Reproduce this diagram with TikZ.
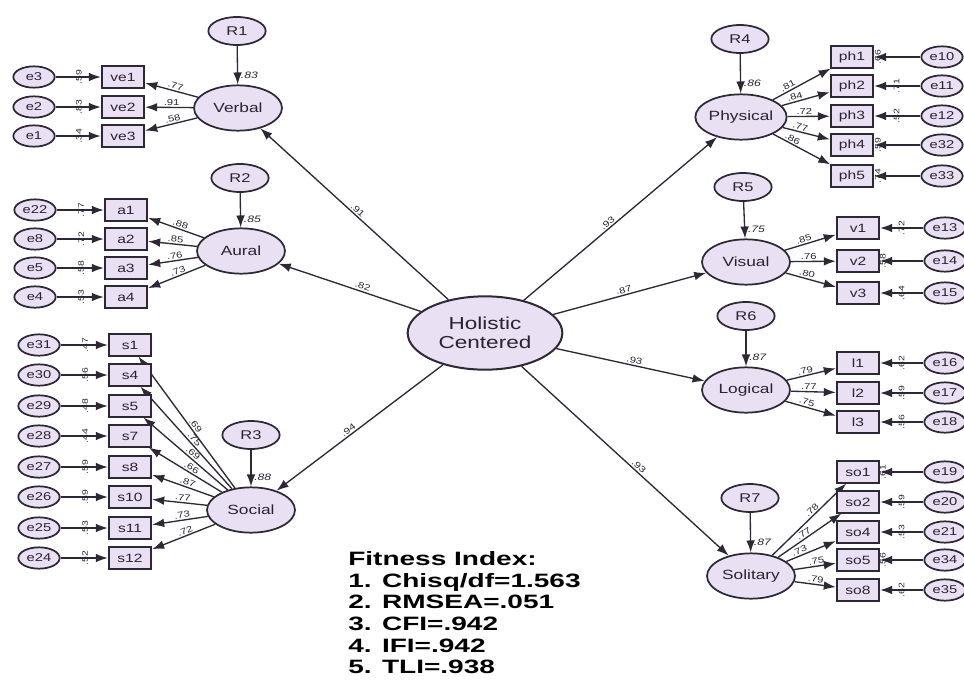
\documentclass[tikz,border=0pt]{standalone}
\usepackage{fontspec}
\setmainfont{Liberation Sans}
\newfontfamily\lab{Liberation Sans}[FakeStretch=1.3]
\newfontfamily\fitf{Liberation Sans}[FakeStretch=1.45]
\usetikzlibrary{shapes.geometric,arrows.meta}
\definecolor{fillC}{RGB}{233,224,243}
\definecolor{lineC}{RGB}{45,40,52}
\definecolor{txtC}{RGB}{40,36,48}
\begin{document}
\begin{tikzpicture}[x=0.75pt,y=-0.75pt,
  lat/.style={ellipse, draw=lineC, line width=1.3pt, fill=fillC, inner sep=0pt, text=txtC},
  fac/.style={lat, minimum width=66pt, minimum height=34pt, font=\lab\fontsize{10}{12}\selectfont},
  res/.style={lat, minimum width=43pt, minimum height=21pt, font=\lab\fontsize{9.5}{11}\selectfont},
  err/.style={lat, minimum width=31pt, minimum height=16pt, font=\lab\fontsize{8.5}{10}\selectfont},
  obs/.style={rectangle, draw=lineC, line width=1.3pt, fill=fillC, minimum width=32pt, minimum height=16pt, inner sep=0pt, text=txtC, font=\lab\fontsize{9}{10}\selectfont},
  arr/.style={draw=lineC, line width=1pt, -{Latex[length=9pt,width=6.5pt]}},
  wt/.style={font=\lab\fontsize{6.5}{7}\selectfont, sloped, above, inner sep=1pt, text=txtC},
  rw/.style={font=\lab\itshape\fontsize{7}{8}\selectfont, right, inner sep=2pt, text=txtC},
  ew/.style={font=\lab\fontsize{6}{7}\selectfont, rotate=90, inner sep=0pt, text=txtC},
  fitl/.style={anchor=base west, inner sep=0pt, text=black, font=\fitf\bfseries\fontsize{14.5}{16}\selectfont},
]
\useasboundingbox (0,0) rectangle (964,682);

% central factor
\node[lat, line width=1.5pt, minimum width=116pt, minimum height=55pt, align=center,
      font=\lab\fontsize{13}{14}\selectfont] (H) at (485,333) {Holistic\\Centered};

% ---------- Verbal ----------
\node[fac] (Verbal) at (238,108) {Verbal};
\node[res] (R1) at (237,31) {R1};
\draw[arr] (R1) -- node[rw,pos=0.75]{.83} (Verbal);
\foreach \bx/\yy/\ex/\sq/\ld in {ve1/77/e3/.59/.77, ve2/107/e2/.83/.91, ve3/136/e1/.34/.58}{
  \node[obs] (\bx) at (123,\yy) {\bx};
  \node[err] (\ex) at (34,\yy) {\ex};
  \draw[arr] (\ex) -- node[ew,pos=0.72,yshift=7pt]{\sq} (\bx);
  \draw[arr] (Verbal) -- node[wt,pos=0.45]{\ld} (\bx);
}

% ---------- Aural ----------
\node[fac] (Aural) at (241,251) {Aural};
\node[res] (R2) at (240,178) {R2};
\draw[arr] (R2) -- node[rw,pos=0.75]{.85} (Aural);
\foreach \bx/\yy/\ex/\sq/\ld in {a1/210/e22/.77/.88, a2/239/e8/.72/.85, a3/268/e5/.58/.76, a4/297/e4/.53/.73}{
  \node[obs] (\bx) at (126,\yy) {\bx};
  \node[err] (\ex) at (35,\yy) {\ex};
  \draw[arr] (\ex) -- node[ew,pos=0.72,yshift=7pt]{\sq} (\bx);
  \draw[arr] (Aural) -- node[wt,pos=0.45]{\ld} (\bx);
}

% ---------- Social ----------
\node[fac] (Social) at (251,510) {Social};
\node[res] (R3) at (251,435) {R3};
\draw[arr] (R3) -- node[rw,pos=0.75]{.88} (Social);
\foreach \bx/\yy/\ex/\sq/\ld in {s1/345/e31/.47/.69, s4/375/e30/.56/.75, s5/406/e29/.48/.69, s7/436/e28/.44/.66, s8/467/e27/.59/.87, s10/497/e26/.59/.77, s11/528/e25/.53/.73, s12/558/e24/.52/.72}{
  \node[obs] (\bx) at (130,\yy) {\bx};
  \node[err] (\ex) at (39,\yy) {\ex};
  \draw[arr] (\ex) -- node[ew,pos=0.72,yshift=7pt]{\sq} (\bx);
  \draw[arr] (Social) -- node[wt,pos=0.45]{\ld} (\bx);
}

% ---------- Physical ----------
\node[fac] (Physical) at (741,117) {Physical};
\node[res] (R4) at (740,39) {R4};
\draw[arr] (R4) -- node[rw,pos=0.75]{.86} (Physical);
\foreach \bx/\yy/\ex/\sq/\ld/\sd/\pp in {ph1/57/e10/.66/.81/7/0.3, ph2/86/e11/.71/.84/-7/0.3, ph3/116/e12/.52/.72/-7/0.4, ph4/145/e32/.59/.77/7/0.35, ph5/176/e33/.74/.86/7/0.3}{
  \node[obs] (\bx) at (852,\yy) {\bx};
  \node[err] (\ex) at (942,\yy) {\ex};
  \draw[arr] (\ex) -- node[ew,pos=0.72,yshift=\sd pt]{\sq} (\bx);
  \draw[arr] (Physical) -- node[wt,pos=\pp]{\ld} (\bx);
}

% ---------- Visual ----------
\node[fac] (Visual) at (746,262) {Visual};
\node[res] (R5) at (743,187) {R5};
\draw[arr] (R5) -- node[rw,pos=0.75]{.75} (Visual);
\foreach \bx/\yy/\ex/\sq/\ld/\sd in {v1/228/e13/.72/.85/-7, v2/261/e14/.58/.76/7, v3/293/e15/.64/.80/-7}{
  \node[obs] (\bx) at (858,\yy) {\bx};
  \node[err] (\ex) at (945,\yy) {\ex};
  \draw[arr] (\ex) -- node[ew,pos=0.72,yshift=\sd pt]{\sq} (\bx);
  \draw[arr] (Visual) -- node[wt,pos=0.4]{\ld} (\bx);
}

% ---------- Logical ----------
\node[fac] (Logical) at (746,390) {Logical};
\node[res] (R6) at (746,316) {R6};
\draw[arr] (R6) -- node[rw,pos=0.75]{.87} (Logical);
\foreach \bx/\yy/\ex/\sq/\ld/\sd in {l1/363/e16/.62/.79/-7, l2/393/e17/.59/.77/-7, l3/422/e18/.56/.75/-7}{
  \node[obs] (\bx) at (858,\yy) {\bx};
  \node[err] (\ex) at (945,\yy) {\ex};
  \draw[arr] (\ex) -- node[ew,pos=0.72,yshift=\sd pt]{\sq} (\bx);
  \draw[arr] (Logical) -- node[wt,pos=0.4]{\ld} (\bx);
}

% ---------- Solitary ----------
\node[fac] (Solitary) at (751,576) {Solitary};
\node[res] (R7) at (750,498) {R7};
\draw[arr] (R7) -- node[rw,pos=0.75]{.87} (Solitary);
\foreach \bx/\yy/\ex/\sq/\ld/\sd/\pp in {so1/472/e19/.61/.78/7/0.58, so2/502/e20/.59/.77/-7/0.45, so4/532/e21/.53/.73/-7/0.3, so5/560/e34/.56/.75/7/0.55, so8/590/e35/.62/.79/-7/0.5}{
  \node[obs] (\bx) at (858,\yy) {\bx};
  \node[err] (\ex) at (945,\yy) {\ex};
  \draw[arr] (\ex) -- node[ew,pos=0.72,yshift=\sd pt]{\sq} (\bx);
  \draw[arr] (Solitary) -- node[wt,pos=\pp]{\ld} (\bx);
}

% ---------- second-order paths ----------
\draw[arr] (H) -- node[wt,pos=0.5]{.91} (Verbal);
\draw[arr] (H) -- node[wt,pos=0.42]{.82} (Aural);
\draw[arr] (H) -- node[wt,pos=0.55]{.94} (Social);
\draw[arr] (H) -- node[wt,pos=0.45]{.93} (Physical);
\draw[arr] (H) -- node[wt,pos=0.47]{.87} (Visual);
\draw[arr] (H) -- node[wt,pos=0.52]{.93} (Logical);
\draw[arr] (H) -- node[wt,pos=0.55]{.93} (Solitary);

% ---------- fitness ----------
\node[fitl] (fit0) at (348,565) {Fitness Index:};
\node[fitl] (fit1) at (348,587) {1. Chisq/df=1.563};
\node[fitl] (fit2) at (348,608) {2. RMSEA=.051};
\node[fitl] (fit3) at (348,630) {3. CFI=.942};
\node[fitl] (fit4) at (348,652) {4. IFI=.942};
\node[fitl] (fit5) at (348,673) {5. TLI=.938};
\end{tikzpicture}
\end{document}
